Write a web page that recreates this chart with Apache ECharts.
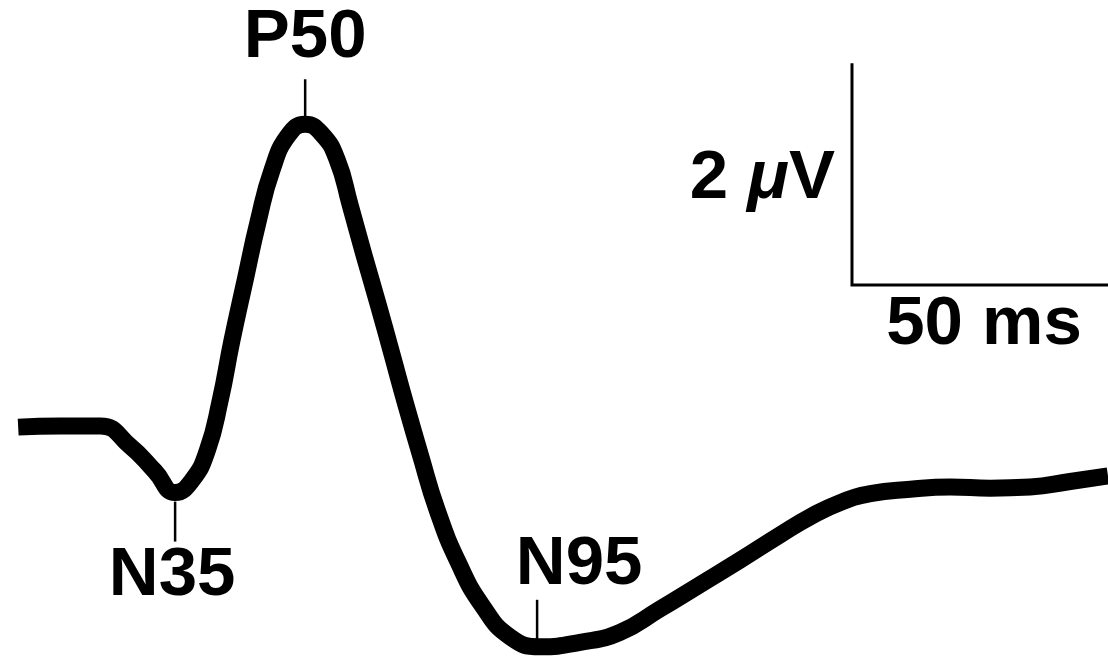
<!DOCTYPE html>
<html>
<head>
<meta charset="utf-8">
<script src="https://cdn.jsdelivr.net/npm/echarts@6/dist/echarts.min.js"></script>
<style>
  html, body { margin: 0; padding: 0; background: #ffffff; }
  #chart { width: 1108px; height: 659px; }
</style>
</head>
<body>
<div id="chart"></div>
<script>
// ---- Data (time in ms, amplitude in µV) ----
const times = [-6.05, 2.15, 10.0, 15.8, 20.7, 24.6, 27.9, 30.9, 33.4, 35.7, 38.3, 40.8, 43.55, 46.7, 50.0, 53.3, 56.25, 58.8, 61.5, 64.3, 67.0, 69.5, 72.5, 75.8, 79.9, 84.6, 90.0, 95.9, 103.7, 111.5, 119.3, 127.1, 134.9, 142.8, 148.6, 154.5, 160.4, 168.2, 176.0, 183.8, 191.6, 199.4, 206.8];
const amplitudes = [-0.01, 0.0, 0.0, -0.18, -0.41, -0.60, -0.49, -0.22, 0.23, 0.77, 1.32, 1.84, 2.31, 2.62, 2.72, 2.63, 2.40, 1.99, 1.54, 1.09, 0.64, 0.22, -0.26, -0.76, -1.23, -1.62, -1.90, -1.99, -1.95, -1.86, -1.65, -1.43, -1.21, -0.98, -0.82, -0.69, -0.61, -0.57, -0.55, -0.56, -0.55, -0.50, -0.45];

const peakLabels = ['N35', 'P50', 'N95'];
const peakLatency = [24.6, 50.0, 95.3];
const peakAmplitude = [-0.60, 2.72, -1.99];

const scaleBarOrigin = [156.8, 1.27];   // ms, µV (corner of the calibration bar)
const scaleBarSize = [50, 2];           // 50 ms, 2 µV
const scaleBarLabels = ['50 ms', '2 {mu|μ}V'];

// ---- Styling / layout (pixel offsets) ----
const FONT = 'Liberation Sans, Arial, Helvetica, sans-serif';
const FS = 69;
const peakLayout = [
  { t1: 9, t2: 49, dx: -3, dy: 83 },     // N35: tick below, label below
  { t1: -7, t2: -45, dx: 0, dy: -86 },   // P50: tick above, label above
  { t1: -7, t2: -47, dx: 42, dy: -82 }   // N95: tick above, label above right
];

const chart = echarts.init(document.getElementById('chart'), null, { renderer: 'canvas' });

const option = {
  backgroundColor: '#ffffff',
  animation: false,
  grid: { left: 0, right: 0, top: 0, bottom: 0, containLabel: false },
  xAxis: { type: 'value', min: -9.6, max: 206.8, show: false },
  yAxis: { type: 'value', min: -2.1, max: 3.84, show: false },
  series: [
    {
      type: 'line',
      data: times.map((t, i) => [t, amplitudes[i]]),
      smooth: 0.5,
      showSymbol: false,
      silent: true,
      lineStyle: { color: '#000000', width: 17, cap: 'butt', join: 'round' },
      z: 3
    },
    {
      type: 'custom',
      silent: true,
      data: peakLatency.map((t, i) => [t, peakAmplitude[i], i]),
      renderItem: function (params, api) {
        const p = api.coord([api.value(0), api.value(1)]);
        const idx = api.value(2);
        const L = peakLayout[idx];
        return {
          type: 'group',
          children: [
            {
              type: 'line',
              shape: { x1: p[0], y1: p[1] + L.t1, x2: p[0], y2: p[1] + L.t2 },
              style: { stroke: '#000000', lineWidth: 2.5 }
            },
            {
              type: 'text',
              style: {
                text: peakLabels[idx],
                x: p[0] + L.dx,
                y: p[1] + L.dy,
                fill: '#000000',
                fontSize: FS,
                fontWeight: 'bold',
                fontFamily: FONT,
                align: 'center',
                verticalAlign: 'middle'
              }
            }
          ]
        };
      },
      z: 4
    },
    {
      type: 'custom',
      silent: true,
      data: [[scaleBarOrigin[0], scaleBarOrigin[1], scaleBarSize[0], scaleBarSize[1]]],
      renderItem: function (params, api) {
        const t0 = api.value(0), a0 = api.value(1), dt = api.value(2), da = api.value(3);
        const top = api.coord([t0, a0 + da]);
        const corner = api.coord([t0, a0]);
        const right = api.coord([t0 + dt, a0]);
        return {
          type: 'group',
          children: [
            {
              type: 'polyline',
              shape: { points: [top, corner, right] },
              style: { stroke: '#000000', lineWidth: 3, fill: null, lineJoin: 'miter' }
            },
            {
              type: 'text',
              style: {
                text: scaleBarLabels[0],
                x: (corner[0] + right[0]) / 2 + 4,
                y: corner[1] + 40,
                fill: '#000000',
                fontSize: FS,
                fontWeight: 'bold',
                fontFamily: FONT,
                align: 'center',
                verticalAlign: 'middle'
              }
            },
            {
              type: 'text',
              style: {
                text: scaleBarLabels[1],
                x: corner[0] - 17,
                y: (top[1] + corner[1]) / 2 + 5,
                fill: '#000000',
                fontSize: FS,
                fontWeight: 'bold',
                fontFamily: FONT,
                align: 'right',
                verticalAlign: 'middle',
                rich: {
                  mu: {
                    fontSize: FS,
                    fontWeight: 'bold',
                    fontStyle: 'italic',
                    fontFamily: FONT,
                    fill: '#000000'
                  }
                }
              }
            }
          ]
        };
      },
      z: 4
    }
  ]
};

chart.setOption(option);
</script>
</body>
</html>
